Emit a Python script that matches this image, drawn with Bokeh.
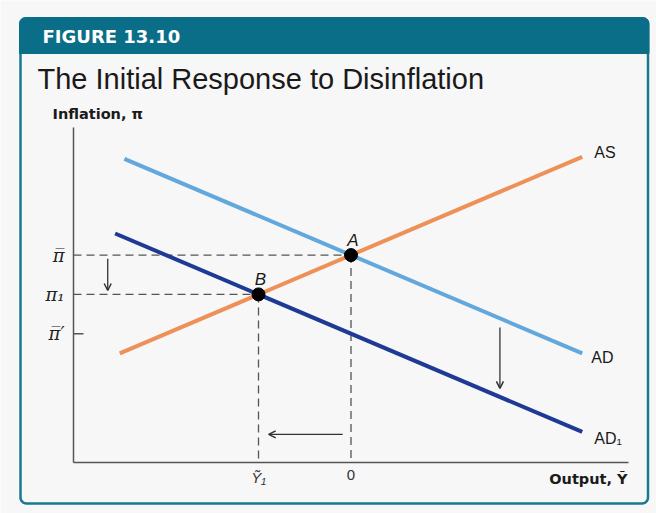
import numpy as np
from bokeh.plotting import figure
from bokeh.models import Range1d, Arrow, OpenHead
from bokeh.core.properties import value
from bokeh.embed import file_html
from bokeh.resources import INLINE

# ---------------- data (model units) ----------------
as_x = [-2.5, 2.5]
as_y = [0.5, 5.5]
ad_x = [-2.45, 2.5]
ad_y = [5.45, 0.5]
ad1_x = [-2.55, 2.5]
ad1_y = [3.55, -1.5]

eq_names = ["A", "B"]
eq_x = [0.0, -1.0]
eq_y = [3.0, 2.0]

y_ticks = [3.0, 2.0, 1.0]
y_tick_labels = ["π̅", "π₁", "π̅′"]
x_ticks = [-1.0, 0.0]
x_tick_labels = ["Ỹ₁", "0"]

axis_x = [-3.0, 3.0]
axis_y = [-2.28, 6.25]

# shift arrows: (x_start, y_start, x_end, y_end)
arrows = [(-2.63, 2.91, -2.63, 2.10),
          (1.61, 1.16, 1.61, -0.39),
          (-0.09, -1.56, -0.89, -1.56)]

curve_labels = ["AS", "AD", "AD₁"]

# ---------------- layout ----------------
W, H = 656, 513
X0PX, XSC = 350.5, 92.5
Y0PX, YSC = 372.5, 39.3

p = figure(width=W, height=H, output_backend="svg", toolbar_location=None,
           x_range=Range1d(-X0PX / XSC, (W - X0PX) / XSC),
           y_range=Range1d(-(H - Y0PX) / YSC, Y0PX / YSC),
           x_axis_location=None, y_axis_location=None, min_border=0)
p.extra_x_ranges = {"px": Range1d(0, W)}
p.extra_y_ranges = {"px": Range1d(H, 0)}
p.grid.visible = False
p.outline_line_color = None
p.background_fill_color = "#f7f7f7"
p.border_fill_color = "#f7f7f7"

TEAL = "#0b6e88"


def rounded_rect(x0, y0, x1, y1, r, top=True, bottom=True):
    xs, ys = [], []
    def arc(cx, cy, a0, a1):
        t = np.linspace(a0, a1, 8)
        xs.extend(cx + r * np.cos(t))
        ys.extend(cy + r * np.sin(t))
    # y grows downward in px space
    if top:
        arc(x0 + r, y0 + r, np.pi, 1.5 * np.pi)
        arc(x1 - r, y0 + r, 1.5 * np.pi, 2 * np.pi)
    else:
        xs.extend([x0, x1]); ys.extend([y0, y0])
    if bottom:
        arc(x1 - r, y1 - r, 0, 0.5 * np.pi)
        arc(x0 + r, y1 - r, 0.5 * np.pi, np.pi)
    else:
        xs.extend([x1, x0]); ys.extend([y1, y1])
    return xs, ys


cx, cy = rounded_rect(20, 18, 647.5, 503, 6)
p.patch(cx, cy, fill_color="#f7f7f7", line_color="#1b7891", line_width=2.5,
        x_range_name="px", y_range_name="px")
hx, hy = rounded_rect(19, 17, 648.5, 53, 6, bottom=False)
p.patch(hx, hy, fill_color=TEAL, line_color=TEAL, line_width=1,
        x_range_name="px", y_range_name="px")

p.text(x=[42], y=[36], text=["FIGURE 13.10"], text_color="white",
       text_font=value("DejaVu Sans"), text_font_style="bold",
       text_font_size=value("18px"), text_baseline="middle",
       x_range_name="px", y_range_name="px")
p.text(x=[37], y=[78], text=["The Initial Response to Disinflation"],
       text_color="#1a1a1a", text_font=value("Liberation Sans"),
       text_font_size=value("29px"), text_baseline="middle",
       x_range_name="px", y_range_name="px")
p.text(x=[52], y=[113], text=["Inflation, π"], text_color="#1a1a1a",
       text_font=value("DejaVu Sans"), text_font_style="bold",
       text_font_size=value("14.5px"), text_baseline="middle",
       x_range_name="px", y_range_name="px")
p.text(x=[627], y=[478], text=["Output, Ỹ"], text_color="#1a1a1a",
       text_font=value("DejaVu Sans"), text_font_style="bold",
       text_font_size=value("14.5px"), text_baseline="middle", text_align="right",
       x_range_name="px", y_range_name="px")

# ---------------- axes ----------------
AX = "#555555"
p.line([axis_x[0], axis_x[0]], axis_y, line_color=AX, line_width=1.5)
p.line(axis_x, [axis_y[0], axis_y[0]], line_color=AX, line_width=1.5)
# inward tick at the last y tick
p.segment(x0=[axis_x[0]], y0=[y_ticks[2]], x1=[axis_x[0] + 10 / XSC], y1=[y_ticks[2]],
          line_color=AX, line_width=1.5)

p.text(x=[axis_x[0]] * 3, y=y_ticks, text=y_tick_labels, x_offset=-9,
       text_align="right", text_baseline="middle", text_color="#222222",
       text_font=value("DejaVu Serif"), text_font_style="italic",
       text_font_size=value("18px"))
p.text(x=x_ticks[:1], y=[axis_y[0]], text=x_tick_labels[:1], y_offset=6,
       text_align="center", text_baseline="top", text_color="#333333",
       text_font=value("Liberation Sans"), text_font_size=value("15px"),
       text_font_style="italic")
p.text(x=x_ticks[1:], y=[axis_y[0]], text=x_tick_labels[1:], y_offset=7,
       text_align="center", text_baseline="top", text_color="#333333",
       text_font=value("Liberation Sans"), text_font_size=value("15px"))

# ---------------- dashed guides ----------------
DASH = "8 5"
p.segment(x0=[axis_x[0]] * 2, y0=eq_y, x1=eq_x, y1=eq_y,
          line_color="#555555", line_width=1.3, line_dash=DASH)
p.segment(x0=eq_x, y0=eq_y, x1=eq_x, y1=[axis_y[0]] * 2,
          line_color="#555555", line_width=1.3, line_dash=DASH)

# ---------------- curves ----------------
p.line(ad_x, ad_y, line_color="#63a8dc", line_width=4)
p.line(ad1_x, ad1_y, line_color="#1f3a94", line_width=4)
p.line(as_x, as_y, line_color="#ee9158", line_width=4)

p.text(x=[as_x[-1], ad_x[-1], ad1_x[-1]], y=[as_y[-1], ad_y[-1], ad1_y[-1]],
       text=curve_labels, x_offset=[12, 9, 12], y_offset=[-4, 4, 7],
       text_baseline="middle", text_color="#1a1a1a",
       text_font=value("Liberation Sans"), text_font_size=value("16px"))

# ---------------- arrows ----------------
for (xs, ys, xe, ye) in arrows:
    p.add_layout(Arrow(end=OpenHead(size=7, line_width=1.5, line_color="#333333"),
                       x_start=xs, y_start=ys, x_end=xe, y_end=ye,
                       line_color="#333333", line_width=1.3))

# ---------------- equilibria ----------------
p.scatter(eq_x, eq_y, size=13, color="black")
p.text(x=eq_x, y=eq_y, text=eq_names, x_offset=2, y_offset=-15,
       text_align="center", text_baseline="middle", text_color="#1a1a1a",
       text_font=value("Liberation Sans"), text_font_style="italic",
       text_font_size=value("17px"))

open("out.html", "w").write(file_html(p, INLINE))
